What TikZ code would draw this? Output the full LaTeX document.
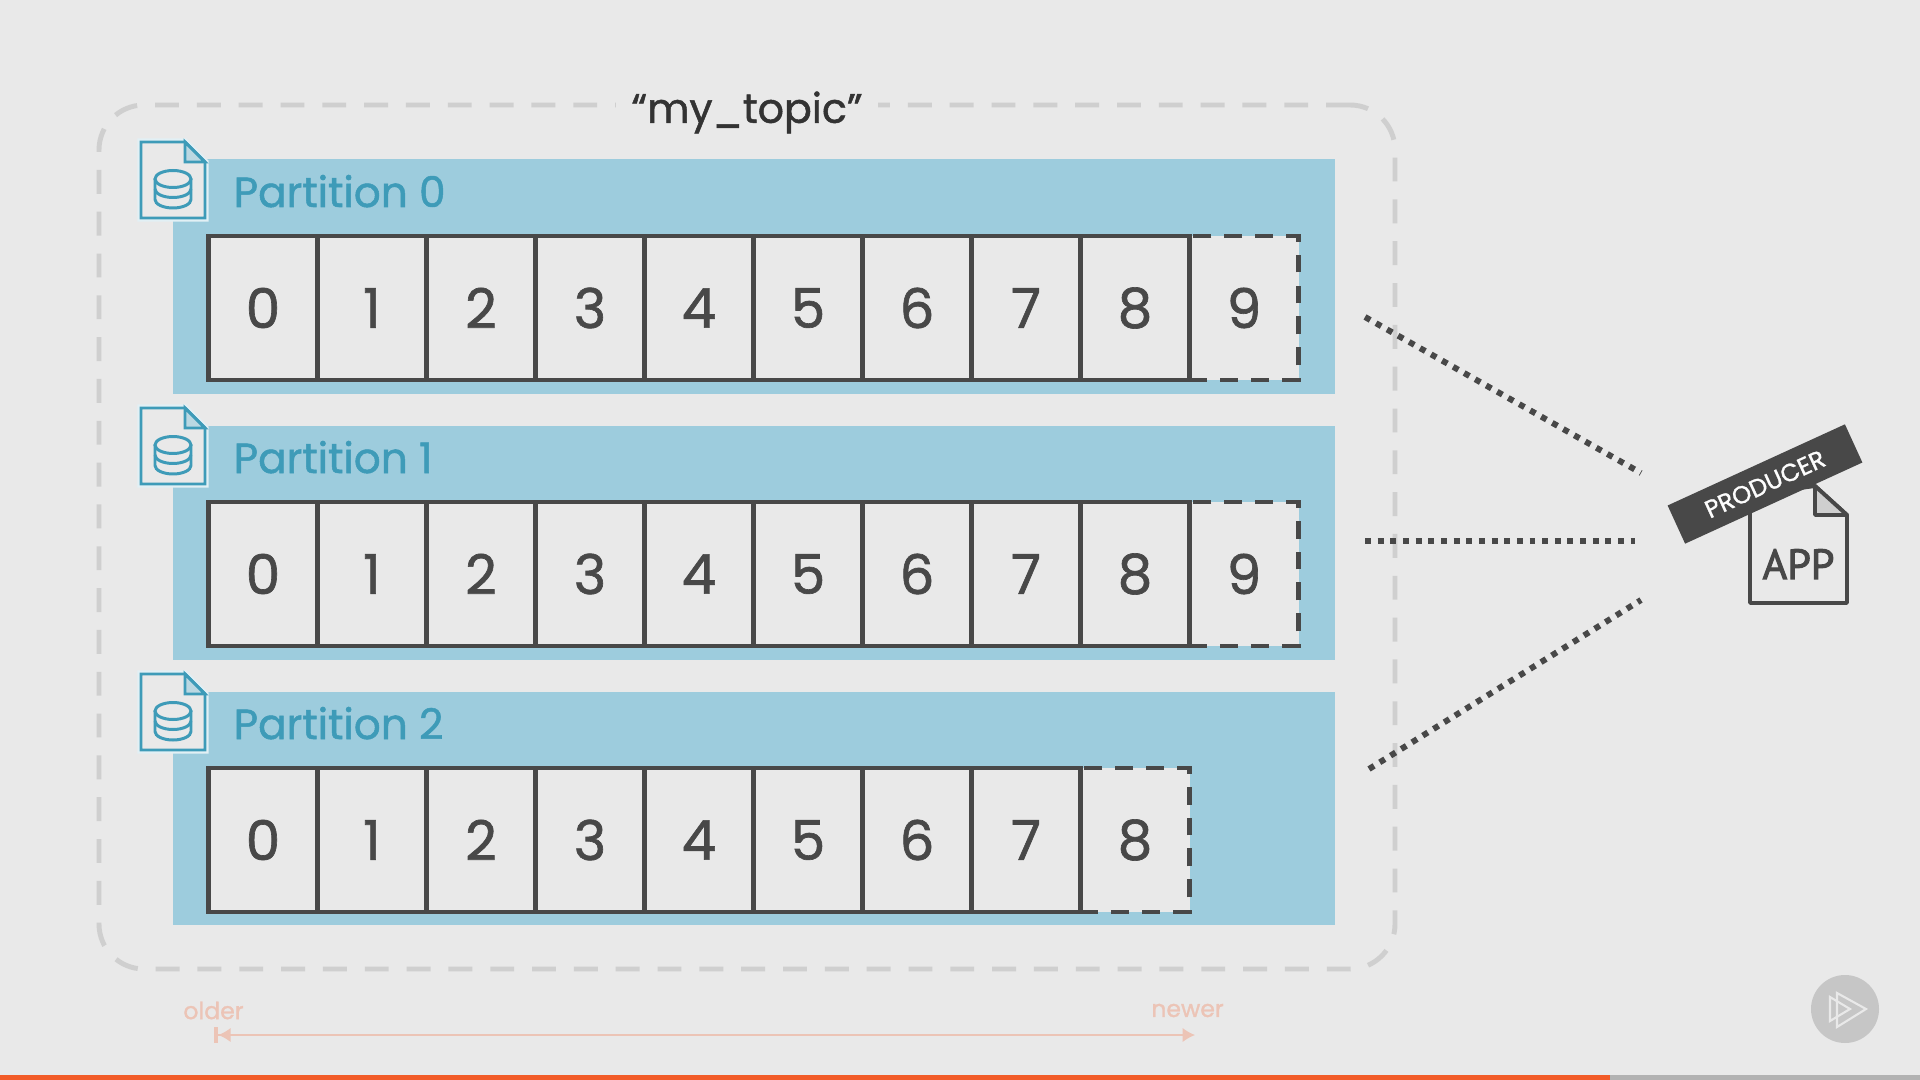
\documentclass[tikz,border=0pt]{standalone}
\usepackage{xcolor,fontspec}
\usetikzlibrary{arrows.meta}
\setmainfont{Poppins}[FakeBold=1.2]
\newfontfamily\appfont{PT Sans}[FakeBold=2.4]
\definecolor{myBg}{RGB}{233, 233, 233}
\definecolor{myBand}{RGB}{157, 204, 221}
\definecolor{myTeal}{RGB}{62, 155, 184}
\definecolor{myDark}{RGB}{72, 72, 72}
\definecolor{myDash}{RGB}{207, 207, 207}
\definecolor{myPeach}{RGB}{236, 196, 182}
\definecolor{myOrange}{RGB}{242, 92, 40}
\tikzset{
	topicbox/.style={draw=myDash, line width=1.4pt, dash pattern=on 6.8pt off 5.1pt, rounded corners=0.45cm, minimum width=12.96cm, minimum height=8.64cm},
	band/.style={fill=myBand, inner sep=0, minimum width=11.62cm},
	cell/.style={draw=myDark, fill=myBg, line width=1.15pt, inner sep=0, minimum width=1.09cm, minimum height=1.44cm, text=myDark, font=\fontsize{15.6}{16}\selectfont},
	newcell/.style={cell, dash pattern=on 5.1pt off 3.7pt},
	partlabel/.style={anchor=base west, inner sep=0, text=myTeal, font=\fontsize{12}{13}\selectfont},
	docline/.style={draw=myTeal, fill=myBg, line width=0.85pt, line join=miter},
	dotline/.style={draw=myDark, line width=1.7pt, dash pattern=on 1.7pt off 1.9pt},
	banner/.style={fill=myDark, text=white!90!myBg, rotate=24.6, inner sep=0, minimum width=1.95cm, minimum height=0.42cm, font=\fontsize{7}{8}\selectfont},
	smalllabel/.style={text=myPeach, inner sep=0, font=\fontsize{6.7}{7}\selectfont},
}

\begin{document}
\begin{tikzpicture}
	\fill[myBg] (0,0) rectangle (19.2,-10.8);
	\useasboundingbox (0,0) rectangle (19.2,-10.8);

	\draw (7.47,-5.37) node[topicbox] (topic) {};
	\draw (7.47,-1.125) node[fill=myBg, inner sep=0, minimum width=2.62cm, minimum height=0.6cm, font=\fontsize{11.7}{13}\selectfont, text=black!80] (title) {“my\_topic”};

	\foreach \r/\yc/\h in {0/-2.765/2.35, 1/-5.43/2.34, 2/-8.085/2.33} {
		\draw (7.54,\yc) node[band, minimum height=\h cm] (band\r) {};
	}

	\foreach \r/\dy/\lastcell/\prevcell in {0/0/9/8, 1/2.66/9/8, 2/5.32/8/7} {
		\begin{scope}[yshift=-\dy cm]
			% file icon with its pale halo
			\draw[white!70!myBand, line width=2pt] (1.41,-1.42) -- (1.85,-1.42) -- (2.05,-1.62) -- (2.05,-2.18) -- (1.41,-2.18) -- cycle;
			\draw[docline] (1.41,-1.42) -- (1.85,-1.42) -- (2.05,-1.62) -- (2.05,-2.18) -- (1.41,-2.18) -- cycle;
			\draw[docline, fill=myBand!60!myBg] (1.85,-1.42) -- (1.85,-1.62) -- (2.05,-1.62) -- cycle;
			\draw[docline] (1.73,-1.79) ellipse (0.18 and 0.085);
			\draw[docline, fill=none] (1.55,-1.79) -- (1.55,-1.995) arc[start angle=180, end angle=360, x radius=0.18, y radius=0.085] -- (1.91,-1.79);
			\draw[docline, fill=none] (1.55,-1.89) arc[start angle=180, end angle=360, x radius=0.18, y radius=0.085];

			\draw (2.33,-2.07) node[partlabel] (label\r) {Partition \r};

			\draw ({2.63+1.09*\lastcell},-3.08) node[newcell] (c\r\lastcell) {\lastcell};
			\foreach \i in {0,...,\prevcell} {
				\draw ({2.63+1.09*\i},-3.08) node[cell] (c\r\i) {\i};
			}
		\end{scope}
	}

	% producer document, banner goes over it
	\draw[draw=myDark, fill=myBg, line width=1.1pt, line join=round] (17.50,-4.95) -- (18.15,-4.86) -- (18.47,-5.15) -- (18.47,-6.03) -- (17.50,-6.03) -- cycle;
	\draw[draw=myDark, fill=myDash, line width=1.1pt, line join=round] (18.15,-4.86) -- (18.15,-5.15) -- (18.47,-5.15) -- cycle;
	\draw (17.985,-5.64) node[inner sep=0, text=myDark, font=\appfont\fontsize{12}{13}\selectfont] (app) {APP};
	\draw (17.65,-4.84) node[banner] (producer) {PRODUCER};

	\coordinate (from0) at (13.65,-3.17);
	\coordinate (to0) at (16.41,-4.73);
	\coordinate (from1) at (13.65,-5.41);
	\coordinate (to1) at (16.35,-5.41);
	\coordinate (from2) at (13.69,-7.69);
	\coordinate (to2) at (16.41,-6.00);
	\path[dotline]
	(from0) edge (to0)
	(from1) edge (to1)
	(from2) edge (to2)
	;

	\draw (2.135,-10.105) node[smalllabel] (older) {older};
	\draw (11.875,-10.105) node[smalllabel] (newer) {newer};
	\coordinate (oldend) at (2.14,-10.35);
	\coordinate (newend) at (11.95,-10.35);
	\draw[myPeach, line width=0.4pt, {Bar[width=4.5pt,line width=1.2pt]Latex[length=3.5pt,width=4pt,sep=0pt]}-{Latex[length=3.5pt,width=4pt]}] (oldend) -- (newend);

	% player button and progress bar
	\fill[black!15!myBg] (18.45,-10.09) circle (0.34);
	\draw[myBg, line width=0.6pt] (18.37,-9.93) -- (18.66,-10.09) -- (18.37,-10.27) -- cycle;
	\draw[myBg, line width=0.6pt] (18.30,-9.97) -- (18.50,-10.09) -- (18.30,-10.21) -- cycle;
	\fill[myOrange] (0,-10.75) rectangle (16.1,-10.8);
	\fill[black!30] (16.1,-10.75) rectangle (19.2,-10.8);
\end{tikzpicture}
\end{document}
